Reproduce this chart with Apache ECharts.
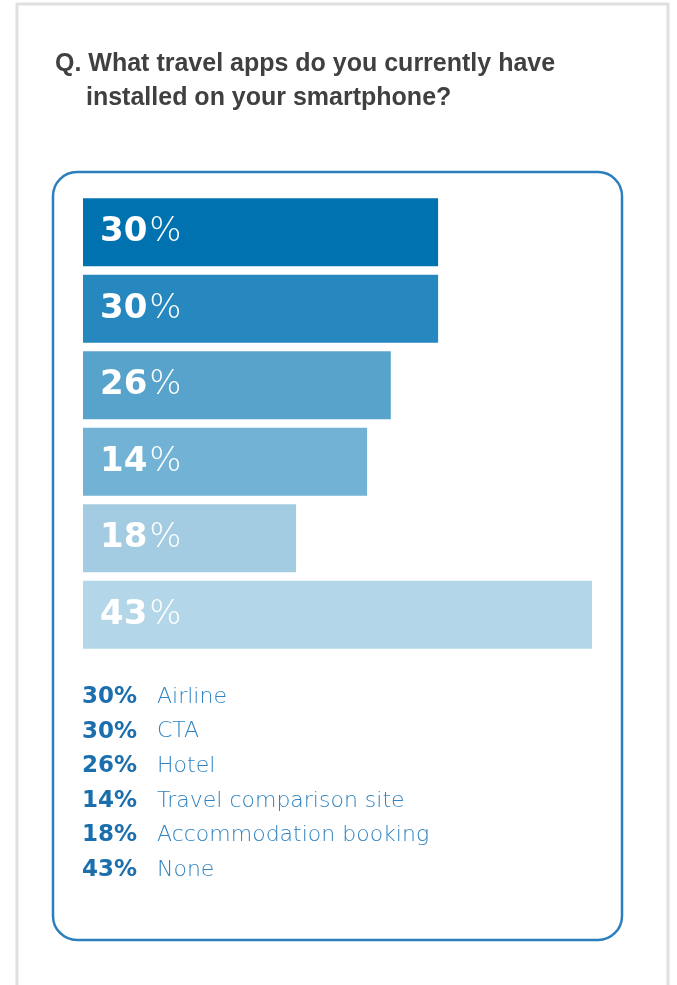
<!DOCTYPE html>
<html>
<head>
<meta charset="utf-8">
<script src="https://cdn.jsdelivr.net/npm/echarts@6/dist/echarts.min.js"></script>
<style>
html,body{margin:0;padding:0;background:#fff;}
#c{width:677px;height:985px;}
</style>
</head>
<body>
<div id="c"></div>
<script>
// Data
var categories = ['Airline', 'CTA', 'Hotel', 'Travel comparison site', 'Accommodation booking', 'None'];
var percentLabels = [30, 30, 26, 14, 18, 43];      // printed percentages
var barLengths = [30, 30, 26, 24, 18, 43];         // bar lengths as drawn in the picture
var barColors = ['#0072b0', '#2788bf', '#57a3cb', '#72b2d5', '#a3cce2', '#b3d7e8'];
var titleLines = ['Q. What travel apps do you currently have', 'installed on your smartphone?'];

var chart = echarts.init(document.getElementById('c'), null, {renderer: 'canvas'});

var graphics = [
  {type: 'rect', z: -1, shape: {x: 17, y: 4, width: 651, height: 1010},
   style: {fill: '#fff', stroke: '#e0e0e0', lineWidth: 3}},
  {type: 'rect', z: 0, shape: {x: 53, y: 172, width: 569, height: 768, r: 24},
   style: {fill: 'none', stroke: '#2b7fbd', lineWidth: 2.5}},
  {type: 'text', left: 55, top: 52, style: {text: titleLines[0], fill: '#404040',
    font: 'bold 25px "Liberation Sans Narrow", "Liberation Sans", sans-serif'}},
  {type: 'text', left: 86, top: 86, style: {text: titleLines[1], fill: '#404040',
    font: 'bold 25px "Liberation Sans Narrow", "Liberation Sans", sans-serif'}}
];
for (var i = 0; i < categories.length; i++) {
  var yc = 697 + i * 34.6;
  graphics.push({type: 'text', x: 137, y: yc, style: {text: percentLabels[i] + '%', fill: '#1b6fad',
    align: 'right', verticalAlign: 'middle', font: 'bold 23px "DejaVu Sans", sans-serif'}});
  graphics.push({type: 'text', x: 157, y: yc, style: {text: categories[i], fill: '#2f83c0',
    align: 'left', verticalAlign: 'middle', font: '200 22px "DejaVu Sans", sans-serif'}});
}

chart.setOption({
  animation: false,
  backgroundColor: '#fff',
  grid: {left: 83, right: 85, top: 194, bottom: 332, containLabel: false},
  xAxis: {type: 'value', min: 0, max: 43, show: false},
  yAxis: {type: 'category', data: categories, inverse: true, show: false},
  series: [{
    type: 'bar',
    barWidth: 68,
    data: barLengths.map(function (v, i) {
      return {value: v, itemStyle: {color: barColors[i]},
        label: {formatter: '{d|' + percentLabels[i] + '}{p|%}'}};
    }),
    label: {
      show: true, position: 'insideLeft', distance: 17,
      rich: {
        d: {color: '#fff', fontSize: 34, fontWeight: 'bold', fontFamily: '"DejaVu Sans", sans-serif'},
        p: {color: '#fff', fontSize: 34, fontWeight: 200, fontFamily: '"DejaVu Sans", sans-serif', padding: [0, 0, 0, 2]}
      }
    }
  }],
  graphic: graphics
});
</script>
</body>
</html>
